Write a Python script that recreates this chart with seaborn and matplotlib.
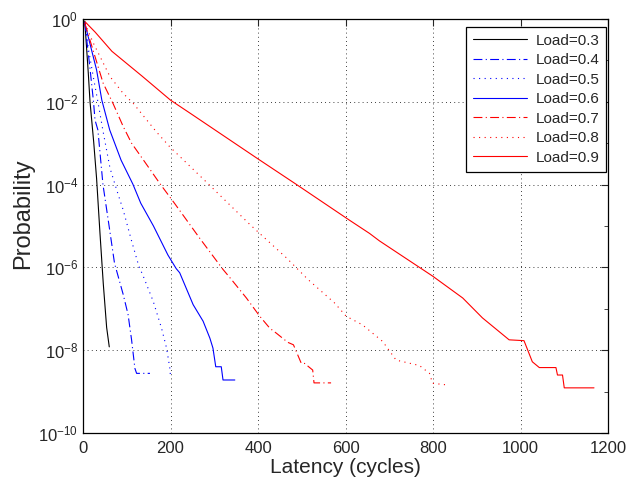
import numpy as np
import pandas as pd
import matplotlib
matplotlib.use("Agg")
import matplotlib.pyplot as plt
import matplotlib.ticker as mticker
import seaborn as sns

# latency (cycles) and log10(probability)
x_03 = [4, 12, 16, 24.4, 31, 38.8, 46.3, 54, 60]
e_03 = [-0.05, -1.3, -2.0, -2.97, -3.85, -5.18, -6.39, -7.45, -7.92]

x_04 = [4, 16, 24, 27.4, 34, 45.6, 61, 72, 92, 103, 111, 118.6, 122.5, 153]
e_04 = [-0.08, -1.2, -2.0, -2.44, -2.68, -4.0, -5.1, -5.9, -6.66, -7.14, -7.75, -8.44, -8.56, -8.56]

x_05 = [4, 12, 23.5, 34, 45.6, 61.6, 77, 92, 111, 127, 137.6, 160.5, 179.5, 191, 198.5, 200]
e_05 = [-0.1, -0.7, -1.4, -2.0, -2.7, -3.6, -4.13, -4.62, -5.36, -5.95, -6.21, -6.82, -7.47, -7.95, -8.44, -8.64]

x_06 = [4, 31, 43, 61, 87, 114, 132, 161, 194, 213, 221, 251.7, 274.5, 290, 297, 303.4, 316, 320, 347]
e_06 = [-0.1, -1.23, -1.96, -2.68, -3.41, -3.99, -4.45, -5.0, -5.7, -6.03, -6.13, -6.9, -7.3, -7.71, -7.95, -8.4, -8.4, -8.72, -8.72]

x_07 = [4, 46, 69, 92, 111, 141, 176, 209, 267, 320, 339, 373.5, 404, 427, 442, 468, 481, 499, 506.5, 525, 528, 567]
e_07 = [-0.1, -1.55, -2.05, -2.6, -3.0, -3.45, -3.98, -4.45, -5.3, -6.05, -6.29, -6.74, -7.18, -7.47, -7.59, -7.81, -7.87, -8.32, -8.32, -8.48, -8.79, -8.79]

x_08 = [4, 23.5, 61.6, 92, 115, 168, 198.5, 286, 381, 465, 514, 575, 601.6, 639, 685, 715.7, 769, 792, 799, 833]
e_08 = [-0.1, -0.58, -1.39, -1.8, -2.04, -2.73, -3.09, -3.98, -4.96, -5.77, -6.29, -6.86, -7.18, -7.39, -7.79, -8.24, -8.37, -8.56, -8.8, -8.84]

x_09 = [5, 28, 66, 135, 200, 244, 400, 484, 607.6, 655, 677.6, 799, 868, 913, 951, 974, 1008,
        1027, 1043, 1081, 1084.5, 1096, 1100, 1168]
e_09 = [-0.07, -0.32, -0.78, -1.38, -1.96, -2.27, -3.38, -3.97, -4.85, -5.18, -5.36, -6.21, -6.74, -7.22, -7.55,
        -7.75, -7.77, -8.28, -8.42, -8.42, -8.6, -8.6, -8.91, -8.91]

loads = ["Load=0.3", "Load=0.4", "Load=0.5", "Load=0.6", "Load=0.7", "Load=0.8", "Load=0.9"]
xs = [x_03, x_04, x_05, x_06, x_07, x_08, x_09]
es = [e_03, e_04, e_05, e_06, e_07, e_08, e_09]

colors = ["black", "#0000ff", "#0000ff", "#0000ff", "#ff0000", "#ff0000", "#ff0000"]
dashes = [None, (8, 3, 1, 3), (1, 4), None, (8, 3, 1, 3), (1, 4), None]

sns.set_style("white")
plt.rcParams["font.family"] = ["Liberation Sans", "DejaVu Sans"]
plt.rcParams["mathtext.default"] = "regular"

fig = plt.figure(figsize=(6.27, 4.82), dpi=100)
ax = fig.add_axes([0.1324, 0.1017, 0.8373, 0.8589])

for lab, x, e, c, d in zip(loads, xs, es, colors, dashes):
    df = pd.DataFrame({"latency": x, "prob": 10 ** np.array(e)})
    sns.lineplot(data=df, x="latency", y="prob", ax=ax, color=c, lw=0.8,
                 label=lab, sort=False, estimator=None)
    if d is not None:
        ax.lines[-1].set_dashes(d)

ax.set_yscale("log")
ax.set_xlim(0, 1200)
ax.set_ylim(1e-10, 1)
ax.set_xticks(np.arange(0, 1201, 200))
ax.set_yticks([1e0, 1e-2, 1e-4, 1e-6, 1e-8, 1e-10])
ax.yaxis.set_major_formatter(mticker.LogFormatterSciNotation())
ax.yaxis.set_minor_locator(mticker.FixedLocator([1e-1, 1e-3, 1e-5, 1e-7, 1e-9]))
ax.yaxis.set_minor_formatter(mticker.NullFormatter())

ax.tick_params(which="both", direction="in", top=True, right=True, labelsize=12)
ax.tick_params(axis="x", pad=6)
ax.tick_params(which="major", length=5, width=0.8)
ax.tick_params(which="minor", length=3, width=0.6)
ax.grid(True, which="major", color="black", linestyle=(0, (1, 4)), lw=0.6)
for s in ax.spines.values():
    s.set_visible(True)
    s.set_color("black")
    s.set_linewidth(0.9)

ax.set_xlabel("Latency (cycles)", fontsize=15, labelpad=1)
ax.set_ylabel("Probability", fontsize=17)
ax.yaxis.set_label_coords(-0.094, 0.53)

leg = ax.legend(loc="upper right", bbox_to_anchor=(0.997, 0.981), borderaxespad=0,
                fontsize=11, handlelength=3.5, labelspacing=0.36, handletextpad=0.6,
                borderpad=0.45, fancybox=False, framealpha=1, edgecolor="black")
leg.get_frame().set_linewidth(0.9)

fig.savefig("out.png", dpi=100)
